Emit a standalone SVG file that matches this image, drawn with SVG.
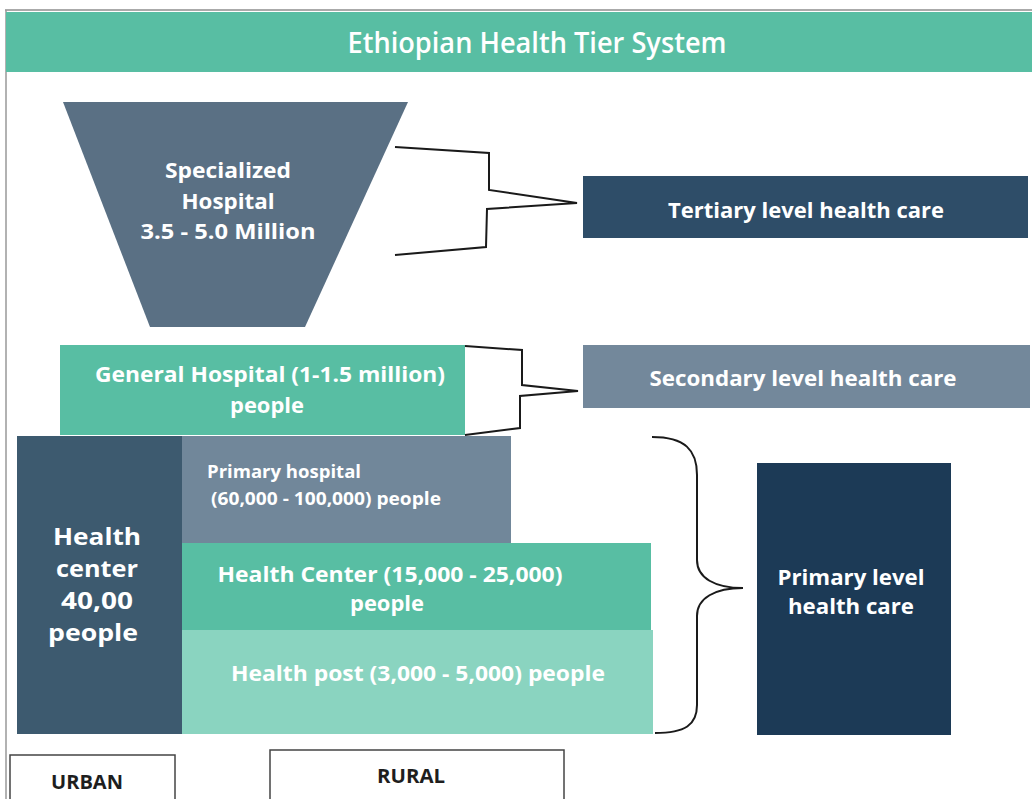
<svg xmlns="http://www.w3.org/2000/svg" width="1032" height="799" viewBox="0 0 1032 799">
<style>
text{font-family:"Open Sans",Lato,"Liberation Sans",sans-serif;font-weight:700;fill:#fff;text-anchor:middle}
.t20{font-size:22px}
.t22{font-size:24px}
.t17{font-size:18px;text-anchor:start}
.dark{fill:#1e1e1e;font-size:19px}
.conn{fill:none;stroke:#1a1a1a;stroke-width:2}
.box{fill:#fff;stroke:#444;stroke-width:1.5}
</style>
<rect x="0" y="0" width="1032" height="799" fill="#fff"/>
<line x1="5" y1="10" x2="1032" y2="10" stroke="#aaa" stroke-width="2"/>
<line x1="6" y1="10" x2="6" y2="799" stroke="#999" stroke-width="1.5"/>
<g id="title">
<rect x="6" y="12" width="1026" height="60" fill="#58bea3"/>
<text x="537" y="53" style="font-size:28px;font-weight:600" textLength="379" lengthAdjust="spacingAndGlyphs">Ethiopian Health Tier System</text>
</g>
<g id="specialized">
<polygon points="63,102 408,102 305,327 150,327" fill="#5a7084"/>
<text class="t20" x="228" y="178" textLength="126" lengthAdjust="spacingAndGlyphs">Specialized</text>
<text class="t20" x="228" y="209" textLength="93" lengthAdjust="spacingAndGlyphs">Hospital</text>
<text class="t20" x="228" y="239" textLength="175" lengthAdjust="spacingAndGlyphs">3.5 - 5.0 Million</text>
</g>
<g id="tertiary">
<rect x="583" y="176" width="445" height="62" fill="#2e4d68"/>
<text class="t20" x="806" y="218" textLength="276" lengthAdjust="spacingAndGlyphs">Tertiary level health care</text>
</g>
<g id="general">
<rect x="60" y="345" width="405" height="90" fill="#58bea3"/>
<text class="t20" x="270" y="382" textLength="350" lengthAdjust="spacingAndGlyphs">General Hospital (1-1.5 million)</text>
<text class="t20" x="267" y="413" textLength="74" lengthAdjust="spacingAndGlyphs">people</text>
</g>
<g id="secondary">
<rect x="583" y="345" width="447" height="63" fill="#73889b"/>
<text class="t20" x="803" y="386" textLength="307" lengthAdjust="spacingAndGlyphs">Secondary level health care</text>
</g>
<g id="health-center-urban">
<rect x="17" y="436" width="166" height="298" fill="#3d5a6f"/>
<text class="t22" x="97" y="545" textLength="88" lengthAdjust="spacingAndGlyphs">Health</text>
<text class="t22" x="97" y="577" textLength="82" lengthAdjust="spacingAndGlyphs">center</text>
<text class="t22" x="97" y="609" textLength="72" lengthAdjust="spacingAndGlyphs">40,00</text>
<text class="t22" x="93" y="641" textLength="90" lengthAdjust="spacingAndGlyphs">people</text>
</g>
<g id="primary-hospital">
<rect x="182" y="436" width="329" height="107" fill="#71879a"/>
<text class="t17" x="207" y="478" textLength="154" lengthAdjust="spacingAndGlyphs">Primary hospital</text>
<text class="t17" x="211" y="505" textLength="230" lengthAdjust="spacingAndGlyphs">(60,000 - 100,000) people</text>
</g>
<g id="health-center">
<rect x="182" y="543" width="469" height="87" fill="#58bea3"/>
<text class="t20" x="390" y="582" textLength="345" lengthAdjust="spacingAndGlyphs">Health Center (15,000 - 25,000)</text>
<text class="t20" x="387" y="611" textLength="74" lengthAdjust="spacingAndGlyphs">people</text>
</g>
<g id="health-post">
<rect x="182" y="630" width="471" height="104" fill="#8ad4c0"/>
<text class="t20" x="418" y="681" textLength="374" lengthAdjust="spacingAndGlyphs">Health post (3,000 - 5,000) people</text>
</g>
<g id="primary-level">
<rect x="757" y="463" width="194" height="272" fill="#1c3a56"/>
<text class="t20" x="851" y="585" textLength="147" lengthAdjust="spacingAndGlyphs">Primary level</text>
<text class="t20" x="851" y="614" textLength="126" lengthAdjust="spacingAndGlyphs">health care</text>
</g>
<g id="urban">
<rect class="box" x="10" y="755" width="165" height="60"/>
<text class="dark" x="87" y="789" textLength="72" lengthAdjust="spacingAndGlyphs">URBAN</text>
</g>
<g id="rural">
<rect class="box" x="270" y="750" width="294" height="65"/>
<text class="dark" x="411" y="783" textLength="68" lengthAdjust="spacingAndGlyphs">RURAL</text>
</g>
<g id="connectors">
<polyline class="conn" points="395,147 489,153 489,190 577,203 487,209 486,247 395,255"/>
<polyline class="conn" points="465,346 522,350 522,385 578,391 520,396 520,428 465,435"/>
<path class="conn" d="M652,437 C685,437 697,450 697,475 L697,560 C697,578 715,588 743,588 C715,588 697,598 697,616 L697,705 C697,725 685,733 655,733"/>
</g>
</svg>
